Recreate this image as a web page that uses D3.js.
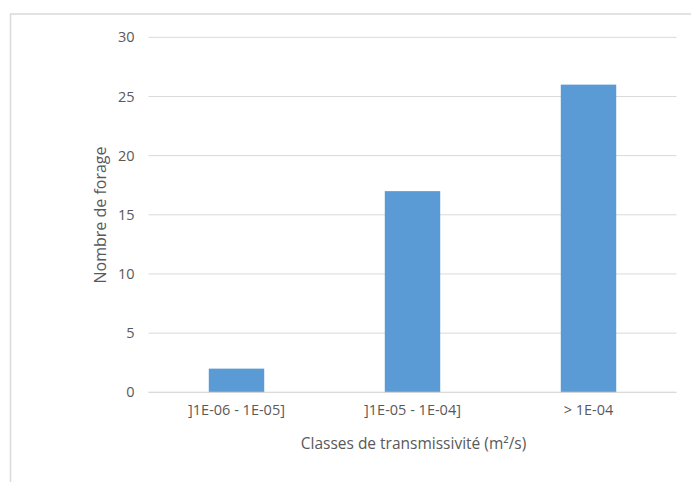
<!DOCTYPE html>
<html>
<head>
<meta charset="utf-8">
<script src="https://cdn.jsdelivr.net/npm/d3@7"></script>
<style>
  html, body { margin: 0; padding: 0; background: #fff; }
  svg { display: block; }
  text { font-family: "Open Sans", "Noto Sans", sans-serif; fill: #595959; }
</style>
</head>
<body>
<svg id="chart" width="691" height="482"></svg>
<script>
// Transmissivity classes and number of boreholes in each
const categories = ["]1E-06 - 1E-05]", "]1E-05 - 1E-04]", "> 1E-04"];
const counts = [2, 17, 26];
const yTicks = [0, 5, 10, 15, 20, 25, 30];
const xTitle = "Classes de transmissivité (m²/s)";
const yTitle = "Nombre de forage";

const svg = d3.select("#chart");

// chart area frame
svg.append("rect")
  .attr("x", 10.5).attr("y", 14)
  .attr("width", 720).attr("height", 500)
  .attr("fill", "none")
  .attr("stroke", "#D9D9D9")
  .attr("stroke-width", 1.5);

const plot = { left: 148.5, right: 676.5, top: 37.3, bottom: 392.3 };

const x = d3.scaleBand()
  .domain(categories)
  .range([plot.left, plot.right])
  .padding(0);

const y = d3.scaleLinear()
  .domain([0, 30])
  .range([plot.bottom, plot.top]);

// horizontal gridlines
svg.append("g")
  .selectAll("line")
  .data(yTicks)
  .join("line")
  .attr("x1", plot.left).attr("x2", plot.right)
  .attr("y1", d => y(d)).attr("y2", d => y(d))
  .attr("stroke", "#D9D9D9")
  .attr("stroke-width", 1);

// y axis labels
const yAxis = svg.append("g")
  .attr("transform", `translate(${plot.left - 14},0)`)
  .call(d3.axisLeft(y).tickValues(yTicks).tickSize(0).tickPadding(0));
yAxis.select(".domain").remove();
yAxis.selectAll("text")
  .attr("fill", "#595959")
  .style("font-family", "'Open Sans', sans-serif")
  .style("font-size", "14.5px");

// bars
const barW = x.bandwidth() * 0.315;
svg.append("g")
  .selectAll("rect")
  .data(categories)
  .join("rect")
  .attr("x", d => x(d) + (x.bandwidth() - barW) / 2)
  .attr("width", barW)
  .attr("y", (d, i) => y(counts[i]))
  .attr("height", (d, i) => y(0) - y(counts[i]))
  .attr("fill", "#5B9BD5");

// baseline redrawn over bars
svg.append("line")
  .attr("x1", plot.left).attr("x2", plot.right)
  .attr("y1", y(0)).attr("y2", y(0))
  .attr("stroke", "#D9D9D9")
  .attr("stroke-width", 1);

// category labels
const xAxis = svg.append("g")
  .attr("transform", `translate(0,${plot.bottom + 12})`)
  .call(d3.axisBottom(x).tickSize(0).tickPadding(0));
xAxis.select(".domain").remove();
xAxis.selectAll("text")
  .attr("fill", "#595959")
  .attr("dy", "0.71em")
  .style("font-family", "'Open Sans', sans-serif")
  .style("font-size", "14.5px");

// axis titles
svg.append("text")
  .attr("x", 413.5).attr("y", 449)
  .attr("text-anchor", "middle")
  .style("font-size", "15.5px")
  .text(xTitle);

svg.append("text")
  .attr("transform", "translate(106,215) rotate(-90)")
  .attr("text-anchor", "middle")
  .style("font-size", "16px")
  .text(yTitle);
</script>
</body>
</html>
